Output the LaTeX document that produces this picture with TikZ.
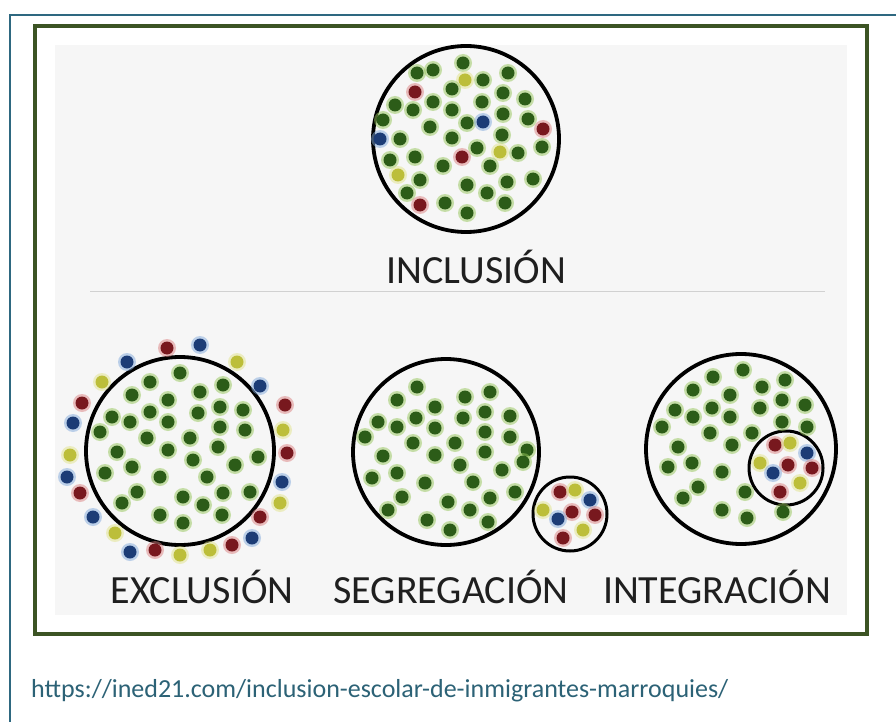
\documentclass[tikz,border=0pt]{standalone}
\usepackage{fontspec}
\setmainfont{Carlito}
\definecolor{frameblue}{RGB}{46,104,128}
\definecolor{framegreen}{RGB}{60,84,36}
\definecolor{panelgray}{RGB}{246,246,246}
\definecolor{urlblue}{RGB}{44,98,118}
\definecolor{dotG}{RGB}{44,92,24}
\definecolor{dotR}{RGB}{120,24,30}
\definecolor{dotB}{RGB}{28,60,118}
\definecolor{dotY}{RGB}{188,190,58}
\definecolor{haloG}{RGB}{150,198,90}
\definecolor{haloR}{RGB}{220,130,130}
\definecolor{haloB}{RGB}{130,170,220}
\definecolor{haloY}{RGB}{225,228,140}
\tikzset{
  halo/.style={fill=halo#1, opacity=0.5},
  core/.style={fill=dot#1},
  ring/.style={draw=black, line width=3.8pt},
  smallring/.style={draw=black, line width=3pt},
  lbl/.style={anchor=base, inner sep=0pt, text=black!88, font=\fontsize{40}{40}\selectfont},
  srctext/.style={anchor=base west, inner sep=0pt, text=urlblue, font=\fontsize{26}{26}\selectfont}
}
\begin{document}
\begin{tikzpicture}[x=1pt, y=-1pt]
  \useasboundingbox (0,0) rectangle (896,722);
  \fill[white] (0,0) rectangle (896,722);

  % outer frame and picture frame
  \draw[frameblue, line width=2.2pt] (10,722) -- (10,15) -- (896,15);
  \fill[panelgray] (55,45) rectangle (847,615);
  \draw[framegreen, line width=3.5pt] (35,26) rectangle (867,634);

  \draw[black!18, line width=1pt] (90,291) -- (825,291);

  % inclusion
  \draw[ring] (466,139) circle (93pt);
  \foreach \x/\y/\c in {463/63/G, 417/73/G, 433/70/G, 465/80/Y, 483/80/G, 508/73/G,
      415/92/R, 452/89/G, 503/93/G, 525/99/G, 395/105/G, 433/102/G, 482/102/G,
      413/110/G, 452/110/G, 503/114/G, 383/120/G, 430/127/G, 467/123/G, 483/122/B,
      528/119/G, 543/129/R, 380/139/B, 400/139/G, 452/138/G, 502/135/G, 542/147/G,
      477/148/G, 500/152/Y, 518/153/G, 390/160/G, 415/157/G, 462/157/R, 443/166/G,
      490/166/G, 398/175/Y, 420/180/G, 467/185/G, 507/182/G, 533/179/G, 407/193/G,
      487/193/G, 420/205/R, 445/203/G, 505/203/G, 467/213/G} {
    \fill[halo=\c] (\x,\y) circle (9pt);
    \fill[core=\c] (\x,\y) circle (6.5pt);
  }

  % exclusion
  \draw[ring] (180,451) circle (94pt);
  \foreach \x/\y/\c in {167/348/R, 200/345/B, 127/362/B, 237/362/Y, 102/382/Y,
      260/386/B, 82/403/R, 285/405/R, 73/423/B, 283/430/Y, 70/455/Y, 287/453/R,
      67/477/B, 282/482/B, 80/493/R, 280/503/Y, 93/517/B, 260/517/R, 115/533/Y,
      252/538/B, 232/545/R, 130/552/B, 155/550/R, 180/555/Y, 210/550/Y,
      180/373/G, 150/382/G, 223/385/G, 200/392/G, 132/395/G, 168/400/G, 220/407/G,
      243/410/G, 198/413/G, 150/412/G, 112/417/G, 130/422/G, 168/422/G, 220/427/G,
      100/432/G, 245/430/G, 147/438/G, 190/438/G, 218/447/G, 117/452/G, 168/450/G,
      258/457/G, 193/460/G, 235/465/G, 132/467/G, 105/473/G, 160/477/G, 207/477/G,
      137/492/G, 223/493/G, 250/492/G, 183/497/G, 203/505/G, 122/503/G, 160/515/G,
      222/515/G, 183/523/G} {
    \fill[halo=\c] (\x,\y) circle (9pt);
    \fill[core=\c] (\x,\y) circle (6.5pt);
  }

  % segregation
  \draw[ring] (446,452) circle (93pt);
  \draw[smallring] (570,514) circle (37pt);
  \foreach \x/\y/\c in {417/387/G, 397/400/G, 435/407/G, 465/397/G, 490/392/G,
      378/422/G, 397/427/G, 416/418/G, 435/428/G, 463/418/G, 485/412/G, 510/416/G,
      365/437/G, 413/443/G, 455/443/G, 485/432/G, 510/437/G, 383/456/G, 435/455/G,
      485/452/G, 527/450/G, 523/462/G, 460/465/G, 502/470/G, 372/478/G, 397/473/G,
      425/483/G, 473/482/G, 515/492/G, 402/497/G, 448/502/G, 490/498/G, 388/510/G,
      470/510/G, 427/520/G, 450/530/G, 488/522/G,
      560/492/R, 575/490/Y, 590/500/B, 543/510/Y, 572/512/R, 558/519/B,
      595/515/R, 583/530/Y, 563/538/R} {
    \fill[halo=\c] (\x,\y) circle (9pt);
    \fill[core=\c] (\x,\y) circle (6.5pt);
  }

  % integration
  \draw[ring] (741,449) circle (95pt);
  \draw[smallring] (786,468) circle (37pt);
  \foreach \x/\y/\c in {743/370/G, 713/377/G, 762/387/G, 785/380/G, 693/390/G,
      730/395/G, 782/400/G, 805/405/G, 760/408/G, 675/410/G, 712/408/G, 693/417/G,
      730/417/G, 782/422/G, 807/427/G, 662/427/G, 710/433/G, 752/433/G, 678/447/G,
      732/445/G, 668/467/G, 692/463/G, 722/472/G, 698/487/G, 745/492/G, 683/498/G,
      722/510/G, 747/518/G, 783/512/G,
      775/445/R, 790/443/Y, 807/453/B, 760/463/Y, 788/465/R, 812/468/R,
      773/473/B, 800/483/Y, 780/492/R} {
    \fill[halo=\c] (\x,\y) circle (9pt);
    \fill[core=\c] (\x,\y) circle (6.5pt);
  }

  % labels
  \node[lbl] (incl) at (476,283) {INCLUSIÓN};
  \node[lbl] (excl) at (202,603) {EXCLUSIÓN};
  \node[lbl] (segr) at (451,603) {SEGREGACIÓN};
  \node[lbl] (integ) at (717,603) {INTEGRACIÓN};

  \node[srctext] (src) at (31,697) {https://ined21.com/inclusion-escolar-de-inmigrantes-marroquies/};
\end{tikzpicture}
\end{document}
